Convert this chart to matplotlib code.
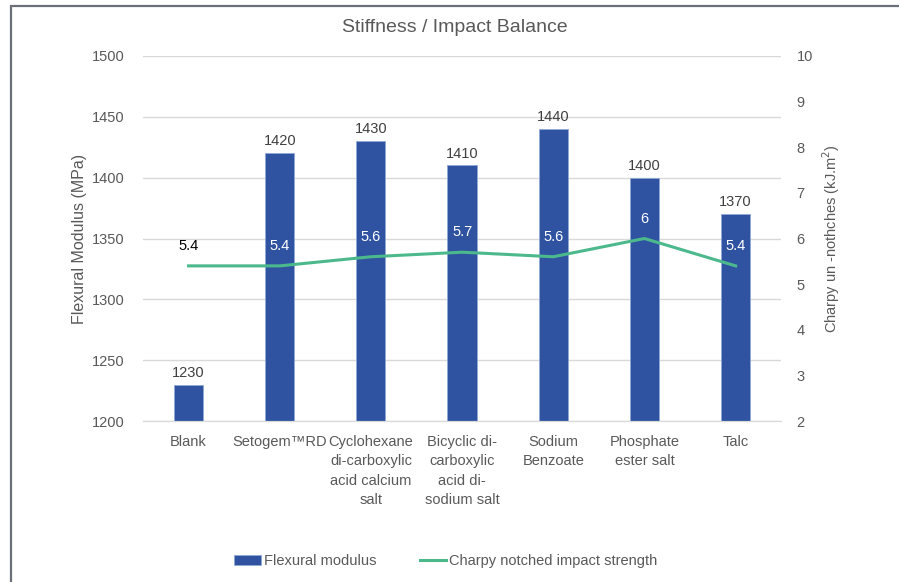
import matplotlib.pyplot as plt
import numpy as np

plt.rcParams['font.family'] = ['Liberation Sans', 'DejaVu Sans']

categories = ['Blank', 'Setogem\u2122RD', 'Cyclohexane\ndi-carboxylic\nacid calcium\nsalt',
              'Bicyclic di-\ncarboxylic\nacid di-\nsodium salt', 'Sodium\nBenzoate',
              'Phosphate\nester salt', 'Talc']
modulus = [1230, 1420, 1430, 1410, 1440, 1400, 1370]
charpy = [5.4, 5.4, 5.6, 5.7, 5.6, 6, 5.4]

bar_color = '#2f53a1'
line_color = '#4cb98d'
text_color = '#595959'
grid_color = '#d9d9d9'
fs = 10.5

fig = plt.figure(figsize=(8.99, 5.82), dpi=100)
ax1 = fig.add_axes([0.159, 0.2766, 0.71, 0.6272])
ax2 = ax1.twinx()

x = np.arange(len(categories))
bars = ax1.bar(x, modulus, width=0.32, color=bar_color, edgecolor='#8fa8d8',
               linewidth=0.6, label='Flexural modulus', zorder=2)
ax1.set_ylim(1200, 1500)
ax1.set_yticks(np.arange(1200, 1501, 50))
ax1.set_xlim(-0.5, len(categories) - 0.5)
ax1.set_xticks(x)
ax1.set_xticklabels(categories, fontsize=fs, color=text_color, linespacing=1.5)
ax1.grid(axis='y', color=grid_color, linewidth=1, zorder=0)
ax1.set_axisbelow(True)
ax1.tick_params(length=0, labelsize=fs, labelcolor=text_color, pad=13)
ax1.tick_params(axis='x', pad=10)
ax1.set_ylabel('Flexural Modulus (MPa)', fontsize=11.5, color=text_color, labelpad=4)

for xi, v in zip(x, modulus):
    ax1.text(xi, v + 4, str(v), ha='center', va='bottom', fontsize=fs, color='#404040')

line, = ax2.plot(x, charpy, color=line_color, linewidth=2.2,
                 label='Charpy notched impact strength', zorder=3)
ax2.set_ylim(2, 10)
ax2.set_yticks(np.arange(2, 11, 1))
ax2.tick_params(length=0, labelsize=fs, labelcolor=text_color, pad=11)
ax2.set_ylabel('Charpy un -nothches (kJ.m$^2$)', fontsize=10.5, color=text_color,
               labelpad=5)

for i, (xi, v) in enumerate(zip(x, charpy)):
    c = 'black' if i == 0 else 'white'
    ax2.text(xi, v + 0.28, f'{v:g}', ha='center', va='bottom', fontsize=fs, color=c)

for ax in (ax1, ax2):
    for s in ('left', 'right', 'top'):
        ax.spines[s].set_visible(False)
    ax.spines['bottom'].set_color(grid_color)

fig.suptitle('Stiffness / Impact Balance', x=0.506, y=0.952, va='center',
             fontsize=14, color=text_color)

fig.legend(handles=[bars, line], loc='center', bbox_to_anchor=(0.496, 0.036),
           ncol=2, frameon=False, fontsize=fs, labelcolor=text_color,
           handlelength=1.8, handleheight=0.7, columnspacing=3.0, handletextpad=0.2)

# outer frame
frame = plt.Rectangle((0.0125, -0.1), 1.5, 1.089, transform=fig.transFigure,
                      fill=False, edgecolor='#6b6f78', linewidth=1.6)
fig.add_artist(frame)

fig.savefig('out.png', dpi=100)
